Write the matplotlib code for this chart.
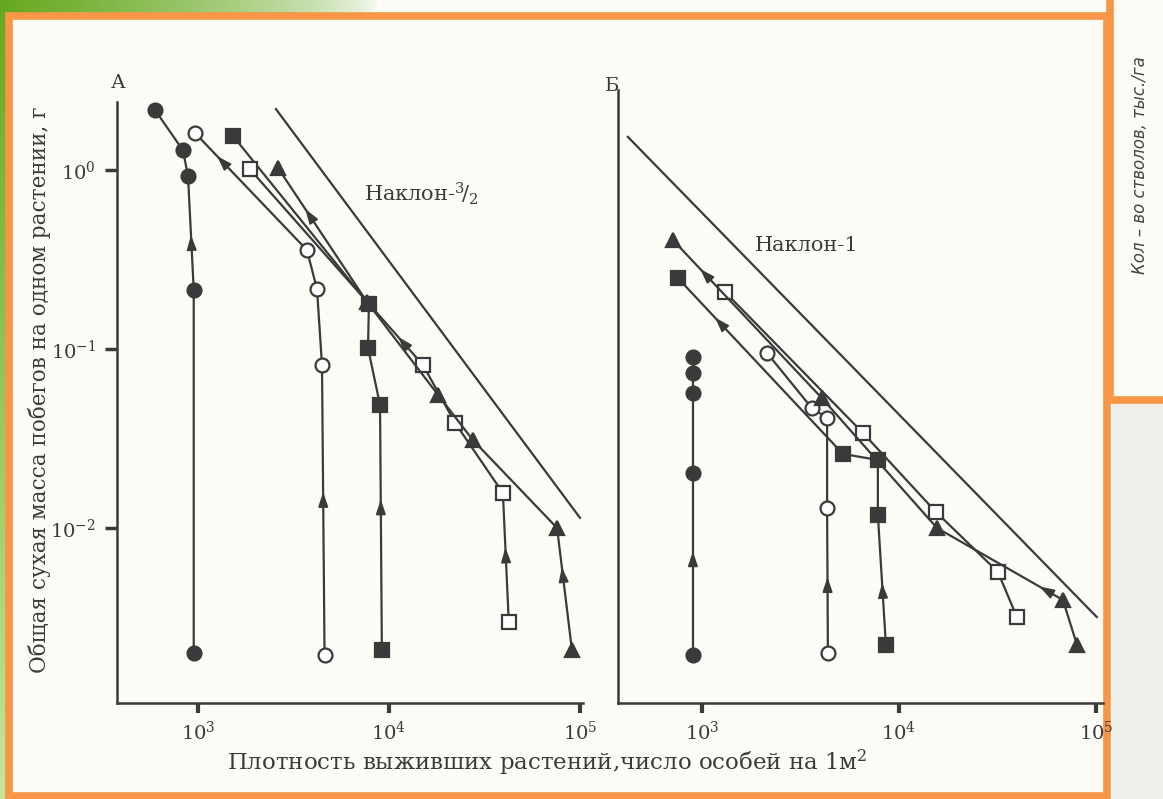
import numpy as np
import matplotlib
matplotlib.use("Agg")
import matplotlib.pyplot as plt
from matplotlib.patches import Rectangle

plt.rcParams['font.family'] = ['DejaVu Serif']
plt.rcParams['mathtext.fontset'] = 'dejavuserif'

W, H = 1163, 799
INK = '#3a3a3a'
ORANGE = '#f79646'

# ---- panel A: density (plants per m2) vs shoot dry mass per plant (g)
a_dot_x = [950, 950, 887, 834, 596]
a_dot_y = [0.0020, 0.214, 0.925, 1.29, 2.16]
a_ring_x = [4600, 4460, 4200, 3720, 965]
a_ring_y = [0.00195, 0.0814, 0.216, 0.357, 1.61]
a_sq_x = [9180, 8980, 7770, 7850, 1525]
a_sq_y = [0.00208, 0.0487, 0.101, 0.178, 1.55]
a_box_x = [42400, 39500, 22200, 15070, 1870]
a_box_y = [0.00298, 0.0157, 0.0386, 0.0814, 1.01]
a_tri_x = [90800, 75900, 27500, 18100, 7680, 2620]
a_tri_y = [0.00208, 0.0100, 0.0310, 0.0553, 0.183, 1.03]
a_ref_x = [2560, 100000]
a_ref_y = [2.19, 0.0114]

# ---- panel B
b_dot_x = [900, 900, 900, 900, 900]
b_dot_y = [0.00195, 0.0203, 0.0568, 0.0734, 0.0902]
b_ring_x = [4360, 4320, 4320, 3610, 2140]
b_ring_y = [0.0020, 0.0129, 0.0412, 0.0468, 0.095]
b_sq_x = [8590, 7820, 7820, 5200, 755]
b_sq_y = [0.00222, 0.0118, 0.0240, 0.0259, 0.249]
b_box_x = [39700, 31800, 15400, 6560, 1310]
b_box_y = [0.00318, 0.00568, 0.0123, 0.0340, 0.208]
b_tri_x = [80200, 68000, 15600, 4060, 713]
b_tri_y = [0.00222, 0.00396, 0.0100, 0.0532, 0.406]
b_ref_x = [421, 101000]
b_ref_y = [1.53, 0.00318]

x_ticks = [1e3, 1e4, 1e5]
x_ticklabels = ['$10^{3}$', '$10^{4}$', '$10^{5}$']
y_ticks = [1e0, 1e-1, 1e-2]
y_ticklabels = ['$10^{0}$', '$10^{-1}$', '$10^{-2}$']


def box(l, t, r, b):
    return [l / W, 1 - b / H, (r - l) / W, (b - t) / H]


fig = plt.figure(figsize=(W / 100, H / 100), dpi=100)

# background: paper, green slide edge, orange frames
bg = fig.add_axes([0, 0, 1, 1])
img = np.ones((H, W, 3)) * np.array([0.992, 0.988, 0.965])
yy = np.linspace(0, 1, H)[:, None]
green_top = np.array([0.40, 0.66, 0.12])
green_low = np.array([0.78, 0.90, 0.60])
img[:, :7] = (green_top * (1 - yy) + green_low * yy)[:, None, :].repeat(7, axis=1)
xx = np.clip(np.linspace(0, 1, 380), 0, 1)[:, None]
fade = green_top * (1 - xx) ** 0.6 + np.array([1, 1, 1]) * (1 - (1 - xx) ** 0.6)
img[:14, :380] = fade[None, :, :]
img[400:, 1112:] = [0.94, 0.94, 0.92]
bg.imshow(img, extent=[0, W, H, 0], aspect='auto', interpolation='bilinear')
bg.add_patch(Rectangle((8.5, 15.5), 1098, 780, fill=False, edgecolor=ORANGE, lw=5.5))
bg.plot([1110, 1110], [0, 400], color=ORANGE, lw=5.5, solid_capstyle='butt')
bg.plot([1108, W], [400, 400], color=ORANGE, lw=5.5, solid_capstyle='butt')
bg.text(1140, 165, 'Кол – во стволов, тыс./га', rotation=90, ha='center', va='center',
        fontsize=12, style='italic', family='DejaVu Sans', color='#444444')
bg.set_xlim(0, W)
bg.set_ylim(H, 0)
bg.axis('off')


def add_arrow(ax, xs, ys, seg, frac):
    lx = np.log10([xs[seg], xs[seg + 1]])
    ly = np.log10([ys[seg], ys[seg + 1]])
    mx, my = lx[0] + frac * (lx[1] - lx[0]), ly[0] + frac * (ly[1] - ly[0])
    dx, dy = lx[1] - lx[0], ly[1] - ly[0]
    n = np.hypot(dx, dy)
    d = 0.02
    ax.annotate('', xy=(10 ** (mx + d * dx / n), 10 ** (my + d * dy / n)),
                xytext=(10 ** (mx - d * dx / n), 10 ** (my - d * dy / n)),
                arrowprops=dict(arrowstyle='-|>,head_length=0.9,head_width=0.3',
                                color=INK, lw=1.2, shrinkA=0, shrinkB=0,
                                mutation_scale=10), zorder=4)


def setup(ax, xlim, ylim, ylabels):
    ax.set_xscale('log')
    ax.set_yscale('log')
    ax.set_xlim(10 ** xlim[0], 10 ** xlim[1])
    ax.set_ylim(10 ** ylim[0], 10 ** ylim[1])
    ax.patch.set_alpha(0)
    for s in ['top', 'right']:
        ax.spines[s].set_visible(False)
    for s in ['left', 'bottom']:
        ax.spines[s].set_color(INK)
        ax.spines[s].set_linewidth(1.8)
    ax.set_xticks(x_ticks)
    ax.set_xticklabels(x_ticklabels, fontsize=14, color=INK)
    ax.xaxis.set_minor_locator(matplotlib.ticker.NullLocator())
    ax.yaxis.set_minor_locator(matplotlib.ticker.NullLocator())
    ax.tick_params(axis='x', length=7, width=3, color=INK, pad=6)
    if ylabels:
        ax.set_yticks(y_ticks)
        ax.set_yticklabels(y_ticklabels, fontsize=14, color=INK)
        ax.tick_params(axis='y', length=9, width=2.5, color=INK, pad=6)
    else:
        ax.set_yticks([])


def draw(ax, xs, ys, marker, face, arrows):
    ax.plot(xs, ys, color=INK, lw=1.6, marker=marker, markersize=10,
            markerfacecolor=face, markeredgecolor=INK, markeredgewidth=1.6, zorder=3)
    for seg, frac in arrows:
        add_arrow(ax, xs, ys, seg, frac)


axA = fig.add_axes(box(117, 102, 583, 703))
setup(axA, (2.576, 5.016), (-2.978, 0.380), True)
axA.plot(a_ref_x, a_ref_y, color=INK, lw=1.6, zorder=2)
draw(axA, a_dot_x, a_dot_y, 'o', INK, [(1, 0.45)])
draw(axA, a_ring_x, a_ring_y, 'o', 'white', [(0, 0.55), (3, 0.78)])
draw(axA, a_sq_x, a_sq_y, 's', INK, [(0, 0.6)])
draw(axA, a_box_x, a_box_y, 's', 'white', [(0, 0.55), (3, 0.13)])
draw(axA, a_tri_x, a_tri_y, '^', INK, [(0, 0.65), (4, 0.67)])
axA.text(0.53, 0.848, 'Наклон-$^{3}\\!/_{2}$', transform=axA.transAxes, fontsize=15,
         color=INK, va='center', ha='left')

axB = fig.add_axes(box(618, 90, 1103, 703))
setup(axB, (2.574, 5.036), (-2.978, 0.447), False)
axB.plot(b_ref_x, b_ref_y, color=INK, lw=1.6, zorder=2)
draw(axB, b_dot_x, b_dot_y, 'o', INK, [(0, 0.55)])
draw(axB, b_ring_x, b_ring_y, 'o', 'white', [(0, 0.5)])
draw(axB, b_sq_x, b_sq_y, 's', INK, [(0, 0.45), (3, 0.76)])
draw(axB, b_box_x, b_box_y, 's', 'white', [])
draw(axB, b_tri_x, b_tri_y, '^', INK, [(1, 0.16), (3, 0.8)])
axB.text(0.283, 0.747, 'Наклон-1', transform=axB.transAxes, fontsize=15,
         color=INK, va='center', ha='left')

fig.text(118 / W, 1 - 83 / H, 'А', fontsize=14, color=INK, ha='center', va='center')
fig.text(612 / W, 1 - 86 / H, 'Б', fontsize=14, color=INK, ha='center', va='center')
fig.text(40 / W, 1 - 390 / H, 'Общая сухая масса побегов на одном растении, г',
         rotation=90, fontsize=15.5, color=INK, ha='center', va='center')
fig.text(547 / W, 1 - 763 / H, 'Плотность выживших растений,число особей на 1м$^{2}$',
         fontsize=16.5, color=INK, ha='center', va='center')

fig.savefig('out.png', dpi=100)
